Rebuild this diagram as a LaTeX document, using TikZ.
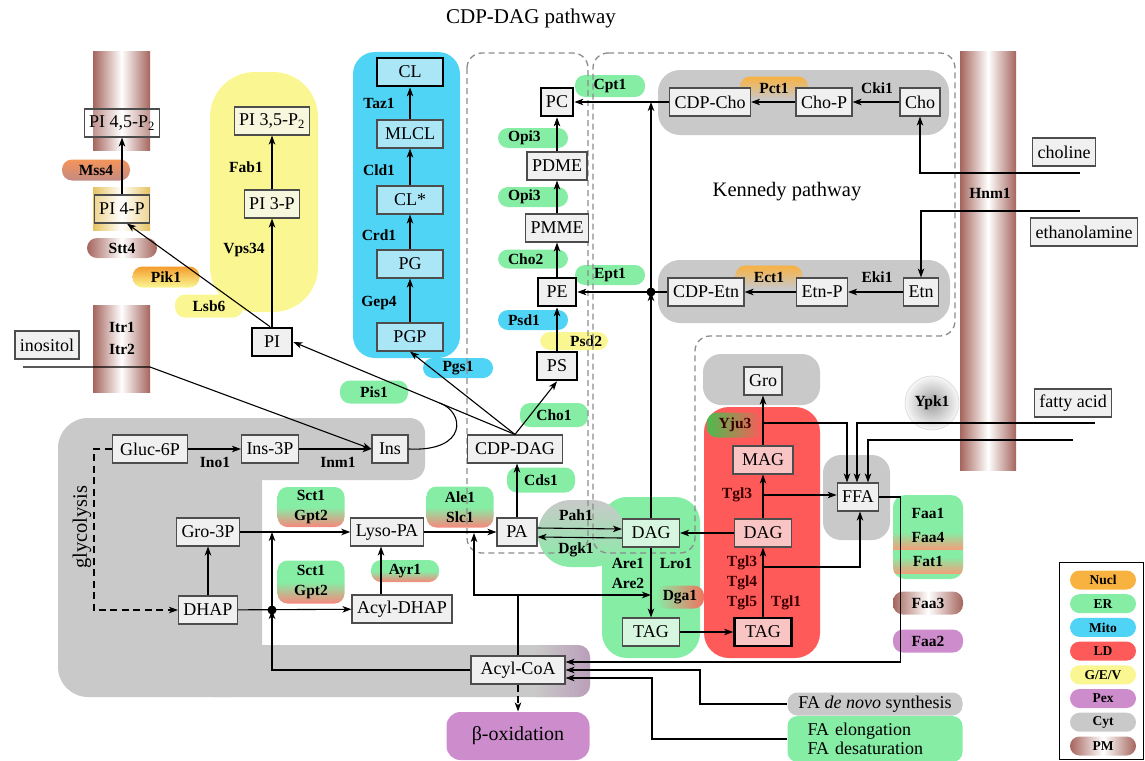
\documentclass[tikz,border=0pt]{standalone}
\usepackage{fontspec}
\setmainfont{Liberation Serif}
\usetikzlibrary{arrows.meta,positioning,shapes.geometric,calc}

\definecolor{ergreen}{HTML}{86EDA5}
\definecolor{mitoblue}{HTML}{50D4F5}
\definecolor{ldred}{HTML}{FF5A5A}
\definecolor{gevyellow}{HTML}{FAF792}
\definecolor{pexpurple}{HTML}{CD8DCC}
\definecolor{cytgray}{HTML}{C9C9C9}
\definecolor{pmbrown}{HTML}{A5655D}
\definecolor{nuclorange}{HTML}{F8B240}
\definecolor{pifour}{HTML}{E6C25E}
\definecolor{mssorange}{HTML}{F4945A}
\definecolor{mssbrown}{HTML}{C38A82}
\definecolor{pikorange}{HTML}{F59C2E}
\definecolor{pillred}{HTML}{F7877C}
\definecolor{faastripe}{HTML}{F0A07A}
\definecolor{yjugreen}{HTML}{4DBB4E}
\definecolor{dgared}{HTML}{F2725F}
\definecolor{pexgray}{HTML}{B99BB8}
\definecolor{ldtext}{HTML}{3A0000}
\definecolor{boxfill}{HTML}{F0F0F0}
\definecolor{boxline}{HTML}{4D4D4D}
\definecolor{mitobox}{HTML}{ABE6F6}
\definecolor{gevbox}{HTML}{F7F7DE}
\definecolor{erbox}{HTML}{D6F6DF}
\definecolor{ldbox}{HTML}{F9C4C4}
\definecolor{dashgray}{HTML}{8C8C8C}

\begin{document}
\begin{tikzpicture}[x=1pt,y=-1pt,>={Stealth[length=9pt,width=6.5pt,inset=2.5pt]},line width=1.1pt]
        \tikzset{box/.style={draw=boxline,fill=boxfill,rectangle,line width=1.1pt,minimum height=28pt,inner xsep=5pt,inner ysep=1pt,font=\fontsize{18}{19}\selectfont},
        tbox/.style={box,draw=black,line width=2.7pt},
        mitobx/.style={box,fill=mitobox,minimum width=66pt},
        gevbx/.style={box,fill=gevbox},
        erbx/.style={box,fill=erbox,minimum width=57pt},
        ldbx/.style={box,fill=ldbox,minimum width=57pt},
        enz/.style={font=\fontsize{15.5}{20}\selectfont\bfseries,inner sep=1pt,align=center},
        ldtxt/.style={enz,text=ldtext},
        pill/.style={enz,rectangle,rounded corners=10pt,minimum width=68pt,minimum height=21pt},
        lpill/.style={pill,inner xsep=10pt,text width=50pt,align=left},
        rpill/.style={pill,inner xsep=6pt,text width=56pt,align=right},
        pmpill/.style={pill,left color=pmbrown,right color=pmbrown,middle color=white},
        erldpill/.style={pill,top color=ergreen,bottom color=pillred,middle color=ergreen},
        legpill/.style={rectangle,rounded corners=9.5pt,minimum width=66pt,minimum height=19pt,inner sep=0pt,font=\fontsize{13.5}{15}\selectfont\bfseries},
        lane/.style={draw=dashgray,line width=1.3pt,dash pattern=on 6pt off 4pt,rounded corners=15pt},
        flowdash/.style={dash pattern=on 7pt off 4.5pt}
        }
        \useasboundingbox (0,0) rectangle (1145,760);

%% compartments
        \fill[cytgray,rounded corners=30pt] (58,418) rectangle (262,697);
        \fill[cytgray,rounded corners=15pt] (200,418) rectangle (425,480);
        \fill[cytgray,rounded corners=12pt] (200,645) rectangle (590,697);
        \begin{scope}
            \clip[rounded corners=12pt] (200,645) rectangle (590,697);
            \shade[left color=cytgray,right color=pexgray] (535,640) rectangle (595,700);
        \end{scope}
        \fill[gevyellow,rounded corners=45pt] (210,72) rectangle (318,312);
        \fill[mitoblue,rounded corners=22pt] (353,52) rectangle (460,358);
        \fill[cytgray,rounded corners=22pt] (658,70) rectangle (949,135);
        \fill[cytgray,rounded corners=22pt] (658,260) rectangle (950,323);
        \fill[cytgray,rounded corners=18pt] (703,354) rectangle (820,405);
        \fill[ldred,rounded corners=25pt] (704,407) rectangle (820,658);
        \fill[cytgray,rounded corners=18pt] (823,455) rectangle (890,540);
        \fill[ergreen,rounded corners=25pt] (602,497) rectangle (700,658);
        \shade[top color=cytgray,bottom color=ergreen,rounded corners=33pt] (538,500) rectangle (625,567);

%% membranes
        \shade[left color=pmbrown,right color=pmbrown,middle color=white] (93,52) rectangle (150,150);
        \shade[left color=pifour,right color=pifour,middle color=white] (93,187) rectangle (150,230);
        \shade[left color=pmbrown,right color=pmbrown,middle color=white] (93,305) rectangle (150,392);
        \shade[left color=pmbrown,right color=pmbrown,middle color=white] (960,52) rectangle (1016,470);

        \node[font=\fontsize{21}{23}\selectfont] (cdptitle) at (531,18) {CDP-DAG pathway};
        \node[font=\fontsize{20.5}{22}\selectfont] (kentitle) at (787,192) {Kennedy pathway};
        \node[font=\fontsize{20.5}{22}\selectfont,rotate=90] (glyco) at (82,527) {glycolysis};

%% enzymes on coloured pills
        \node[pill,top color=mssorange,bottom color=mssbrown] (mss) at (96,170) {Mss4};
        \node[pmpill,minimum width=70pt,minimum height=20pt] (stt) at (122,248) {Stt4};
        \node[pill,top color=pikorange,bottom color=gevyellow,minimum width=67pt] (pik) at (166,277) {Pik1};
        \node[pill,fill=gevyellow,minimum height=23pt] (lsb) at (209,306) {Lsb6};
        \node[pill,fill=mitoblue,minimum width=70pt,minimum height=20pt] (pgs) at (458,368) {Pgs1};
        \node[pill,fill=ergreen,minimum height=23pt] (pis) at (374,392) {Pis1};
        \node[pill,fill=ergreen,minimum width=70pt,minimum height=22pt] (cpt) at (610,86) {Cpt1};
        \node[lpill,fill=ergreen,minimum height=20pt] (opiA) at (533,138) {Opi3};
        \node[lpill,fill=ergreen,minimum height=20pt] (opiB) at (533,197) {Opi3};
        \node[lpill,fill=ergreen,minimum height=19pt] (chotwo) at (533,259) {Cho2};
        \node[pill,fill=ergreen,minimum width=70pt,minimum height=20pt] (ept) at (610,275) {Ept1};
        \node[lpill,fill=mitoblue,minimum height=20pt] (psdone) at (533,320) {Psd1};
        \node[rpill,fill=gevyellow,minimum height=18pt] (psdtwo) at (574,341) {Psd2};
        \node[pill,fill=ergreen,minimum height=24pt] (choone) at (554,415) {Cho1};
        \node[pill,fill=ergreen,minimum height=25pt] (cds) at (541,480) {Cds1};
        \node[erldpill,minimum width=67pt,minimum height=40pt] (sctA) at (311,507) {Sct1\\Gpt2};
        \node[erldpill,minimum width=67pt,minimum height=43pt] (sctB) at (311,582) {Sct1\\Gpt2};
        \node[erldpill,minimum width=67pt,minimum height=41pt] (ale) at (460,507) {Ale1\\Slc1};
        \node[erldpill,minimum height=22pt] (ayr) at (405,571) {Ayr1};
        \node[pill,top color=nuclorange,bottom color=cytgray,minimum height=23pt] (pct) at (774,88) {Pct1};
        \node[pill,top color=nuclorange,bottom color=cytgray,minimum width=67pt,minimum height=23pt] (ect) at (769,277) {Ect1};
        \node[pill,left color=yjugreen,right color=ldred,minimum width=56pt,minimum height=25pt,text=ldtext] (yju) at (735,425) {Yju3};
        \node[pill,left color=ergreen,right color=dgared,minimum width=48pt,minimum height=23pt] (dga) at (680,597) {Dga1};
        \fill[ergreen,rounded corners=12pt] (893,495) rectangle (963,579);
        \begin{scope}
            \clip[rounded corners=12pt] (893,495) rectangle (963,579);
            \shade[top color=ergreen,bottom color=faastripe] (893,532) rectangle (963,549);
            \shade[top color=ergreen,bottom color=faastripe] (893,557) rectangle (963,573);
        \end{scope}
        \node[enz,font=\fontsize{15.5}{24}\selectfont\bfseries] (faa) at (928,537) {Faa1\\Faa4\\Fat1};
        \node[pmpill,minimum width=70pt,minimum height=23pt] (faathree) at (928,603) {Faa3};
        \node[pill,fill=pexpurple,minimum width=70pt,minimum height=23pt] (faatwo) at (928,641) {Faa2};
        \node[pill,fill=cytgray,minimum width=175pt,minimum height=23pt,font=\fontsize{18}{19}\selectfont] (denovo) at (875,704) {FA \textit{de novo} synthesis};
        \node[pill,fill=ergreen,minimum width=175pt,minimum height=46pt,inner xsep=20pt,text width=135pt,align=left,font=\fontsize{18}{19}\selectfont] (elong) at (875,739) {FA elongation\\FA desaturation};
        \node[pill,fill=pexpurple,minimum width=143pt,minimum height=48pt,rounded corners=14pt,font=\fontsize{20}{22}\selectfont] (beta) at (518,736) {β-oxidation};
        \node[circle,draw=gray!25,line width=0.8pt,inner color=gray!75,outer color=gray!6,minimum size=54pt,enz] (ypk) at (932,403) {Ypk1};

%% pathway outlines
        \draw[lane] (467,53) rectangle (588,553);
        \draw[lane] (593,53) -- (955,53) -- (955,336) -- (695,336) -- (695,553) -- (593,553) -- cycle;

%% metabolites
        \node[box,fill=white,fill opacity=0.3,text opacity=1] (PIfortyfive) at (122,123) {PI 4,5-P\textsubscript{2}};
        \node[box,fill=white,fill opacity=0.3,text opacity=1] (PIfourP) at (122,209) {PI 4-P};
        \node[gevbx] (PIthreefive) at (272,121) {PI 3,5-P\textsubscript{2}};
        \node[gevbx] (PIthreeP) at (272,204) {PI 3-P};
        \node[tbox,minimum width=40pt] (PI) at (272,342) {PI};
        \node[box] (inositol) at (47,345) {inositol};
        \node[mitobx,draw=black,line width=2.7pt] (CL) at (410,72) {CL};
        \node[mitobx] (MLCL) at (410,134) {MLCL};
        \node[mitobx] (CLstar) at (410,200) {CL*};
        \node[mitobx] (PG) at (410,264) {PG};
        \node[mitobx] (PGP) at (410,337) {PGP};
        \node[tbox,minimum width=32pt] (PC) at (557,102) {PC};
        \node[box] (PDME) at (557,166) {PDME};
        \node[box] (PMME) at (557,228) {PMME};
        \node[tbox,minimum width=38pt] (PE) at (557,292) {PE};
        \node[tbox,minimum width=40pt] (PS) at (557,366) {PS};
        \node[box,minimum width=95pt] (CDPDAG) at (515,449) {CDP-DAG};
        \node[box,minimum width=40pt] (PA) at (517,532) {PA};
        \node[box] (LysoPA) at (387,532) {Lyso-PA};
        \node[box] (AcylDHAP) at (402,609) {Acyl-DHAP};
        \node[box] (Gro3P) at (208,532) {Gro-3P};
        \node[box] (DHAP) at (208,610) {DHAP};
        \node[box,minimum width=75pt] (Gluc6P) at (150,449) {Gluc-6P};
        \node[box] (Ins3P) at (270,449) {Ins-3P};
        \node[box,minimum width=36pt] (Ins) at (390,449) {Ins};
        \node[box,minimum width=94pt] (AcylCoA) at (518,670) {Acyl-CoA};
        \node[erbx] (DAG) at (651,533) {DAG};
        \node[erbx] (TAG) at (651,632) {TAG};
        \node[ldbx] (DAGld) at (763,533) {DAG};
        \node[ldbx,draw=black,line width=2.7pt] (TAGld) at (763,632) {TAG};
        \node[ldbx,minimum width=60pt] (MAG) at (763,460) {MAG};
        \node[box] (Gro) at (763,381) {Gro};
        \node[box] (FFA) at (858,497) {FFA};
        \node[box] (CDPCho) at (710,102) {CDP-Cho};
        \node[box] (ChoP) at (824,102) {Cho-P};
        \node[box] (Cho) at (920,102) {Cho};
        \node[box] (CDPEtn) at (706,292) {CDP-Etn};
        \node[box] (EtnP) at (822,292) {Etn-P};
        \node[box] (Etn) at (921,292) {Etn};
        \node[box] (choline) at (1064,152) {choline};
        \node[box] (ethanolamine) at (1084,232) {ethanolamine};
        \node[box] (fattyacid) at (1073,403) {fatty acid};

%% enzymes as plain labels
        \node[enz] (fab) at (246,167) {Fab1};
        \node[enz] (vps) at (244,250) {Vps34};
        \node[enz] (taz) at (379,103) {Taz1};
        \node[enz] (cld) at (379,170) {Cld1};
        \node[enz] (crd) at (379,235) {Crd1};
        \node[enz] (gep) at (379,303) {Gep4};
        \node[enz] (ino) at (215,462) {Ino1};
        \node[enz] (inm) at (338,462) {Inm1};
        \node[enz,font=\fontsize{15.5}{22}\selectfont\bfseries] (itr) at (122,338) {Itr1\\Itr2};
        \node[enz] (cki) at (877,88) {Cki1};
        \node[enz] (eki) at (877,277) {Eki1};
        \node[enz] (hnm) at (990,193) {Hnm1};
        \node[enz] (pah) at (576,515) {Pah1};
        \node[enz] (dgk) at (576,550) {Dgk1};
        \node[enz] (areone) at (628,563) {Are1};
        \node[enz] (aretwo) at (628,583) {Are2};
        \node[enz] (lro) at (676,563) {Lro1};
        \node[ldtxt] (tglA) at (737,495) {Tgl3};
        \node[ldtxt] (tglB) at (742,583) {Tgl3\\Tgl4\\Tgl5};
        \node[ldtxt] (tglone) at (786,603) {Tgl1};

%% free ends and bends
        \coordinate (cholIn) at (1080,173);
        \coordinate (etnIn) at (1080,211);
        \coordinate (inoIn) at (23,367);
        \coordinate (inoMem) at (150,367);
        \coordinate (faInA) at (1095,423);
        \coordinate (faInB) at (1073,440);
        \coordinate (yjuLvl) at (0,423);
        \coordinate (tglLvl) at (0,495);
        \coordinate (tgloneLvl) at (0,567);
        \coordinate (acMid) at (518,595);
        \coordinate (paIn) at (474,533);
        \coordinate (gpJoin) at (272,532);
        \coordinate (dhJoin) at (272,610);
        \coordinate (dnBend) at (700,670);
        \coordinate (elBend) at (652,678);

%% paths
        \draw[->] (PI.north) -- (PIthreeP.south);
        \draw[->] (PIthreeP) -- (PIthreefive);
        \draw[->] ([xshift=-2pt]PI.north) -- ([xshift=5pt]PIfourP.south);
        \draw[->] (PIfourP) -- (PIfortyfive);
        \draw[->] (inoIn) -- (inoMem) -- (Ins.west);
        \draw[->] (Gluc6P) -- (Ins3P);
        \draw[->] (Ins3P) -- (Ins);
        \draw (Ins.east) .. controls (468,452) and (465,412) .. ($(CDPDAG.north)!0.34!(PI.east)$);
        \draw[->] (CDPDAG.north) -- (PI.east);
        \draw[->] (CDPDAG.north) -- (PGP.south);
        \draw[->] (CDPDAG.north) -- (PS.south);
        \draw[->] (PGP) -- (PG);
        \draw[->] (PG) -- (CLstar);
        \draw[->] (CLstar) -- (MLCL);
        \draw[->] (MLCL) -- (CL);
        \draw[->] (PS) -- (PE);
        \draw[->] (PE) -- (PMME);
        \draw[->] (PMME) -- (PDME);
        \draw[->] (PDME) -- (PC);
        \draw[->] (Cho) -- (ChoP);
        \draw[->] (ChoP) -- (CDPCho);
        \draw[->] (CDPCho) -- (PC);
        \draw[->] (Etn) -- (EtnP);
        \draw[->] (EtnP) -- (CDPEtn);
        \draw[->] (CDPEtn) -- (PE);
        \draw[->] (cholIn) -| (Cho.south);
        \draw[->] (etnIn) -| (Etn.north);
        \draw[->] (DAG.north) -- (DAG.north |- CDPCho.west);
        \draw[->] (DAG.north) -- (DAG.north |- CDPEtn.west);
        \fill (DAG.north |- CDPEtn.west) circle (4.5pt);
        \draw[->,flowdash] (Gluc6P.west) -- ++(-18,0) |- (DHAP.west);
        \draw[->] (DHAP) -- (Gro3P);
        \draw[->] (Gro3P) -- (LysoPA);
        \draw[->] (DHAP) -- (AcylDHAP);
        \draw[->] ([xshift=-6pt]LysoPA.south |- AcylDHAP.north) -- ([xshift=-6pt]LysoPA.south);
        \draw[->] (LysoPA) -- (PA);
        \draw[->] (PA.north) -- (PA.north |- CDPDAG.south);
        \draw[->] ([yshift=4pt]PA.east) -- ([yshift=4pt]DAG.west);
        \draw[<-] ([yshift=-5pt]PA.east) -- ([yshift=-5pt]DAG.west);
        \draw[->] (AcylCoA.west) -| (dhJoin);
        \draw[->] (dhJoin) -- (gpJoin);
        \fill (dhJoin) circle (4.5pt);
        \draw (AcylCoA.north) -- (acMid);
        \draw[->] (acMid) -| (paIn);
        \draw[->] (acMid) -- (DAG.south |- acMid);
        \draw[->,flowdash] (AcylCoA.south) -- (beta.north);
        \draw[->] (DAG) -- (TAG);
        \draw[->] (TAG) -- (TAGld);
        \draw[->] (TAGld) -- (DAGld);
        \draw[->] (DAGld) -- (DAG);
        \draw[->] (DAGld) -- (MAG);
        \draw[->] (MAG) -- (Gro);
        \draw[->] (TAGld.north |- tgloneLvl) -| ([xshift=2pt]FFA.south);
        \draw[->] (DAGld.north |- tglLvl) -- (FFA.west |- tglLvl);
        \draw[->] (MAG.north |- yjuLvl) -| ([xshift=-11pt]FFA.north);
        \draw[->] (faInA) -| ([xshift=-1pt]FFA.north);
        \draw[->] (faInB) -| ([xshift=10pt]FFA.north);
        \draw[->] (FFA.east) -- ++(21,0) |- ([yshift=8pt]AcylCoA.east);
        \draw[->] (denovo.west) -| (dnBend) -- (AcylCoA.east);
        \draw[->] (elong.west) -| (elBend) -- ([yshift=-8pt]AcylCoA.east);

%% legend
        \draw[line width=0.8pt] (1059,562) rectangle (1143,759);
        \foreach \col/\lab [count=\i from 0] in {nuclorange/Nucl,ergreen/ER,mitoblue/Mito,ldred/LD,gevyellow/{G/E/V},pexpurple/Pex,cytgray/Cyt}
            \node[legpill,fill=\col] (leg\i) at (1103,{580+23.7*\i}) {\lab};
        \node[legpill,left color=pmbrown,right color=pmbrown,middle color=white] (legPM) at (1103,746) {PM};
\end{tikzpicture}
\end{document}
